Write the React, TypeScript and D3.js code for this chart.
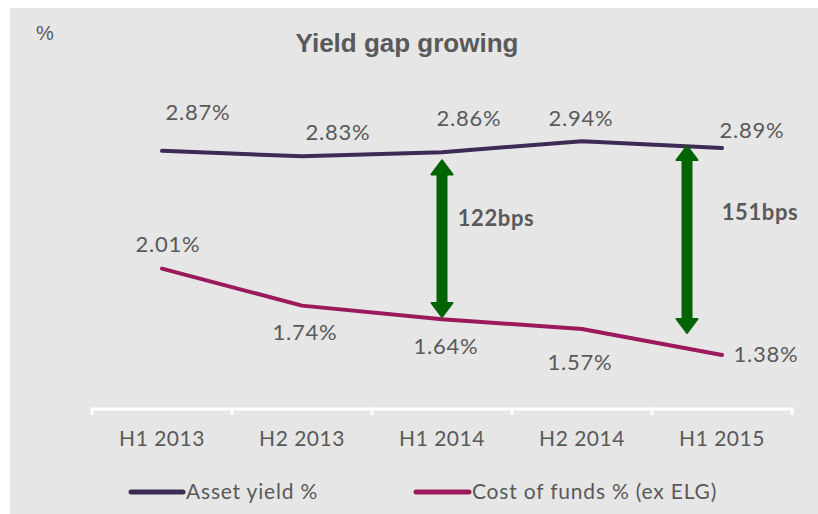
import React from "react";
import * as d3 from "d3";

const categories = ["H1 2013", "H2 2013", "H1 2014", "H2 2014", "H1 2015"];
const assetYield = [2.87, 2.83, 2.86, 2.94, 2.89];
const costOfFunds = [2.01, 1.74, 1.64, 1.57, 1.38];
const seriesNames = ["Asset yield %", "Cost of funds % (ex ELG)"];
const gapLabels = ["122bps", "151bps"];
// arrow annotations: position (category index, fractional), from / to values
const gapPos = [2, 3.75];
const gapFrom = [2.8, 2.905];
const gapTo = [1.657, 1.54];

const assetLabelOff = [[36, -31], [36, -16], [27, -26], [-1, -15], [30, -10]];
const costLabelOff = [[6, -17], [3, 34], [4, 35], [-2, 41], [44, 7]];
const gapLabelOff = [[54, 17], [73, 10]];

const W = 818;
const H = 514;
const COL_A = "#3d2a55";
const COL_C = "#9a1a5b";
const GREEN = "#006400";
const TXT = "#595959";
const LABEL_FONT = "Lato, 'Open Sans', sans-serif";

export default function App() {
  const x = d3.scaleBand<string>().domain(categories).range([92, 792]).padding(0);
  const cx = (i: number) => (x(categories[i]) as number) + x.bandwidth() / 2;
  const xi = (f: number) => 92 + x.bandwidth() * (f + 0.5);
  const y = d3.scaleLinear().domain([1, 3]).range([407, 133]);

  const line = d3
    .line<number>()
    .x((_, i) => cx(i))
    .y((d) => y(d));

  const tickXs = categories.map((c) => x(c) as number).concat([792]);

  const arrowPath = (ax: number, y1: number, y2: number) => {
    const sw = 4.5;
    const hw = 10.5;
    const hl = 14;
    return [
      `M${ax},${y1}`,
      `L${ax + hw},${y1 + hl}`,
      `L${ax + sw},${y1 + hl}`,
      `L${ax + sw},${y2 - hl}`,
      `L${ax + hw},${y2 - hl}`,
      `L${ax},${y2}`,
      `L${ax - hw},${y2 - hl}`,
      `L${ax - sw},${y2 - hl}`,
      `L${ax - sw},${y1 + hl}`,
      `L${ax - hw},${y1 + hl}`,
      "Z",
    ].join(" ");
  };

  const lbl = { fontFamily: LABEL_FONT, fontSize: 22, fill: TXT, letterSpacing: 0.8 } as any;

  return (
    <svg
      width={W}
      height={H}
      style={{ position: "absolute", left: 0, top: 0 }}
    >
      <rect x={10} y={8} width={W - 10} height={H - 8} fill="#e6e6e6" />
      <text x={36} y={40} fontFamily="'Liberation Sans', Arial, sans-serif" fontSize={20} fill={TXT}>
        %
      </text>
      <text
        x={407}
        y={52}
        textAnchor="middle"
        fontFamily="'Liberation Sans', Arial, sans-serif"
        fontWeight="bold"
        fontSize={26}
        fill={TXT}
      >
        Yield gap growing
      </text>

      {/* axis */}
      <line x1={92} x2={792} y1={409} y2={409} stroke="#fff" strokeWidth={3} />
      {tickXs.map((t, i) => (
        <line key={i} x1={t} x2={t} y1={407.5} y2={415} stroke="#fff" strokeWidth={3} />
      ))}
      {categories.map((c, i) => (
        <text
          key={c}
          x={cx(i)}
          y={446}
          textAnchor="middle"
          fontFamily={LABEL_FONT}
          fontSize={21}
          letterSpacing={0.5}
          fill={TXT}
        >
          {c}
        </text>
      ))}

      {/* lines */}
      <path d={line(assetYield) || ""} fill="none" stroke={COL_A} strokeWidth={4} strokeLinecap="round" strokeLinejoin="round" />
      <path d={line(costOfFunds) || ""} fill="none" stroke={COL_C} strokeWidth={4} strokeLinecap="round" strokeLinejoin="round" />

      {assetYield.map((v, i) => (
        <text
          key={"a" + i}
          x={cx(i) + assetLabelOff[i][0]}
          y={y(v) + assetLabelOff[i][1]}
          textAnchor="middle"
          {...lbl}
        >
          {v.toFixed(2)}%
        </text>
      ))}
      {costOfFunds.map((v, i) => (
        <text
          key={"c" + i}
          x={cx(i) + costLabelOff[i][0]}
          y={y(v) + costLabelOff[i][1]}
          textAnchor="middle"
          {...lbl}
        >
          {v.toFixed(2)}%
        </text>
      ))}

      {/* gap arrows */}
      {gapPos.map((p, i) => {
        const ax = xi(p);
        const y1 = y(gapFrom[i]);
        const y2 = y(gapTo[i]);
        return (
          <g key={"g" + i}>
            <path d={arrowPath(ax, y1, y2)} fill={GREEN} stroke={GREEN} strokeWidth={2} strokeLinejoin="round" />
            <text
              x={ax + gapLabelOff[i][0]}
              y={(y1 + y2) / 2 - 30 + gapLabelOff[i][1]}
              textAnchor="middle"
              fontFamily={LABEL_FONT}
              fontWeight="bold"
              fontSize={22}
              letterSpacing={0.6}
              fill={TXT}
            >
              {gapLabels[i]}
            </text>
          </g>
        );
      })}

      {/* legend */}
      <line x1={131} x2={183} y1={492} y2={492} stroke={COL_A} strokeWidth={5} strokeLinecap="round" />
      <text x={186} y={499} fontFamily={LABEL_FONT} fontSize={21} letterSpacing={0.8} fill={TXT}>
        {seriesNames[0]}
      </text>
      <line x1={416} x2={469} y1={492} y2={492} stroke={COL_C} strokeWidth={5} strokeLinecap="round" />
      <text x={472} y={499} fontFamily={LABEL_FONT} fontSize={21} letterSpacing={0.8} fill={TXT}>
        {seriesNames[1]}
      </text>
    </svg>
  );
}
